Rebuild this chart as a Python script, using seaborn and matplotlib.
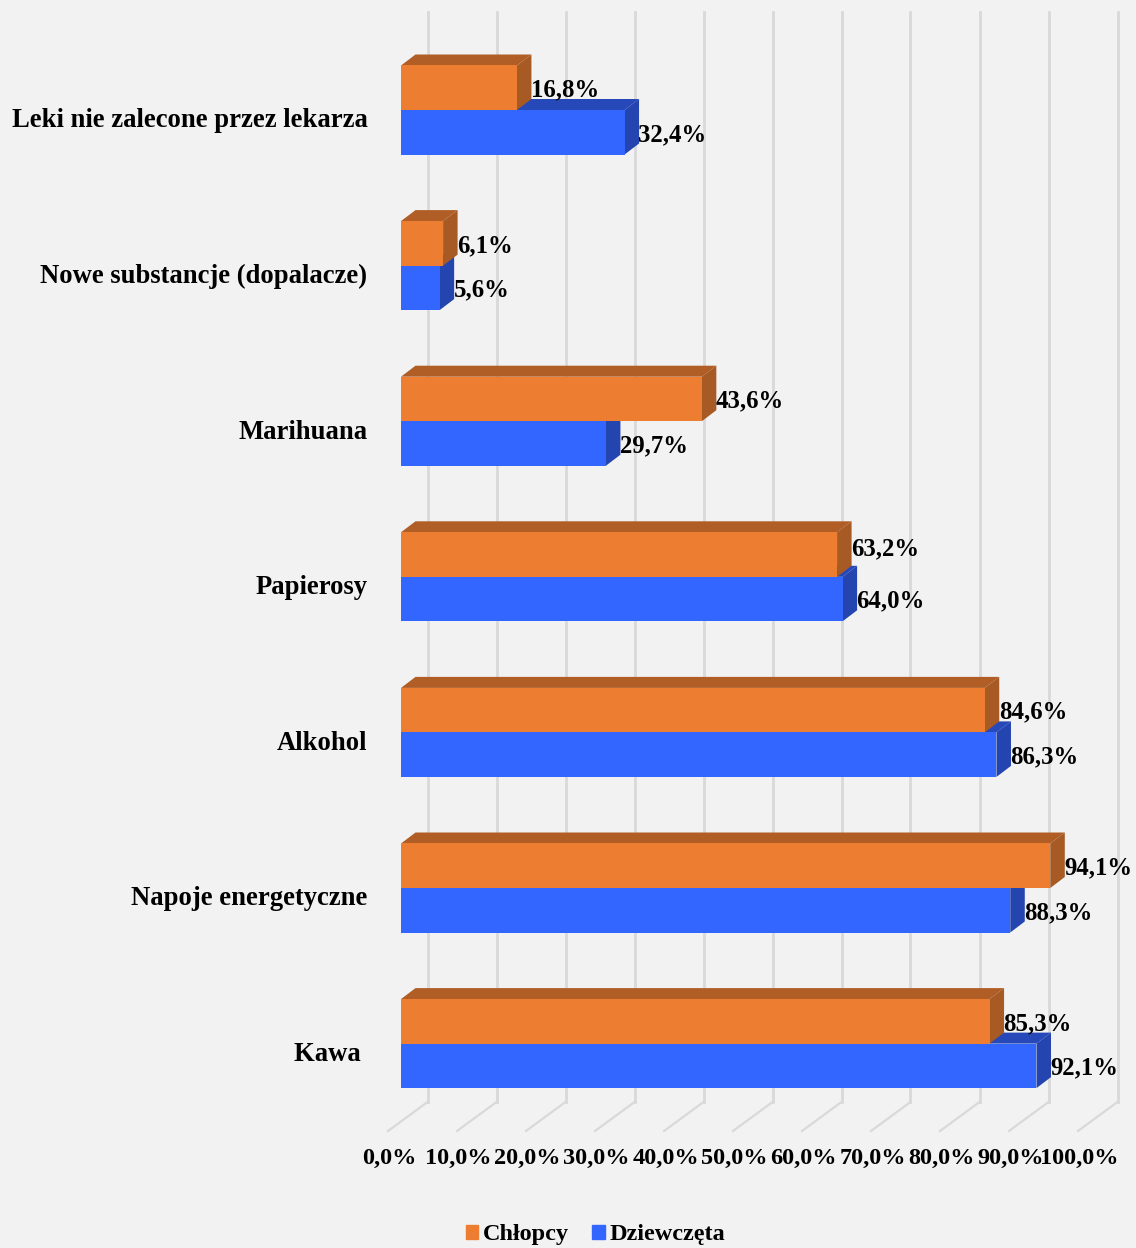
import matplotlib
matplotlib.use("Agg")
import pandas as pd
import matplotlib.pyplot as plt
import seaborn as sns
from matplotlib.patches import Polygon
from matplotlib.transforms import Affine2D

categories = ['Leki nie zalecone przez lekarza', 'Nowe substancje (dopalacze)', 'Marihuana',
              'Papierosy', 'Alkohol', 'Napoje energetyczne', 'Kawa ']
chlopcy = [16.8, 6.1, 43.6, 63.2, 84.6, 94.1, 85.3]
dziewczeta = [32.4, 5.6, 29.7, 64.0, 86.3, 88.3, 92.1]
x_ticks = [0, 10, 20, 30, 40, 50, 60, 70, 80, 90, 100]

df = pd.DataFrame({'kategoria': categories * 2,
                   'procent': chlopcy + dziewczeta,
                   'plec': ['Chłopcy'] * 7 + ['Dziewczęta'] * 7})

BG = '#f2f2f2'
W, H = 1136, 1248
plt.rcParams['font.family'] = ['Liberation Serif', 'DejaVu Serif']
plt.rcParams['font.weight'] = 'bold'

fig = plt.figure(figsize=(W / 100, H / 100), dpi=100, facecolor=BG)
# axes box in pixels: 0% at x=401, 100% at x=1091
ax = fig.add_axes([401 / W, (H - 1135) / H, 690 / W, (1135 - 12) / H])
ax.set_facecolor('none')

sns.barplot(data=df, y='kategoria', x='procent', hue='plec', orient='h',
            palette={'Chłopcy': '#ed7d31', 'Dziewczęta': '#3366ff'},
            width=0.572, saturation=1, ax=ax, legend=False)

ax.set_xlim(0, 100)
step = 155.6
ax.set_ylim((1135 - 110) / step, (12 - 110) / step)
ax.set_xlabel('')
ax.set_ylabel('')
for s in ax.spines.values():
    s.set_visible(False)

# back wall and floor lines, in pixel offsets from the front of the bars
grid_col = '#d9d9d9'
for t in x_ticks:
    x0 = ax.transData.transform((t, 0))[0]
    wall = x0 + 26.5
    front = x0 - 13
    fig.add_artist(plt.Line2D([wall / W, wall / W], [(H - 12) / H, (H - 1102) / H],
                              color=grid_col, lw=2, zorder=0))
    fig.add_artist(plt.Line2D([wall / W, front / W], [(H - 1102) / H, (H - 1131) / H],
                              color=grid_col, lw=1.6, zorder=0))

# fake 3d depth on every bar
dx = 14.5 / 6.9
dy = 11 / step
side_cols = {0: '#a85a24', 1: '#2444b0'}
top_cols = {0: '#b05e26', 1: '#2648b8'}
for i, cont in enumerate(ax.containers):
    z = 2 if i == 1 else 4
    for bar in cont:
        x1 = bar.get_width()
        y0 = bar.get_y()
        y1 = y0 + bar.get_height()
        bar.set_zorder(z + 1)
        bar.set_linewidth(0)
        ax.add_patch(Polygon([(0, y0), (dx, y0 - dy), (x1 + dx, y0 - dy), (x1, y0)],
                             facecolor=top_cols[i], lw=0, zorder=z))
        ax.add_patch(Polygon([(x1, y0), (x1 + dx, y0 - dy), (x1 + dx, y1 - dy), (x1, y1)],
                             facecolor=side_cols[i], lw=0, zorder=z))

for i, cont in enumerate(ax.containers):
    vals = chlopcy if i == 0 else dziewczeta
    labels = [f'{v:.1f}%'.replace('.', ',') for v in vals]
    texts = ax.bar_label(cont, labels=labels, padding=10, fontsize=17.8, fontweight='bold',
                         color='black', zorder=8)
    for t in texts:
        t.xyann = (t.xyann[0], t.xyann[1] - 1.5)
    if i == 0:
        # Papierosy label sits higher in the original
        texts[3].xyann = (texts[3].xyann[0], texts[3].xyann[1] + 5.5)

ax.set_xticks(x_ticks)
ax.set_xticklabels([f'{t:.1f}%'.replace('.', ',') for t in x_ticks], fontsize=17.5, fontweight='bold')
ax.tick_params(axis='x', length=0, pad=9.5)
ax.tick_params(axis='y', length=0, pad=24.2, labelsize=19.2)
shift = Affine2D().translate(-11.5, 0)
for lab in ax.get_xticklabels():
    lab.set_transform(lab.get_transform() + shift)
shift_y = Affine2D().translate(0, -8)
for lab in ax.get_yticklabels():
    lab.set_transform(lab.get_transform() + shift_y)

handles = [plt.Rectangle((0, 0), 1, 1, color='#ed7d31'), plt.Rectangle((0, 0), 1, 1, color='#3366ff')]
fig.legend(handles, ['Chłopcy', 'Dziewczęta'], loc='lower center', ncol=2, frameon=False,
           fontsize=17.5, bbox_to_anchor=(595.5 / W, -0.0155), handlelength=0.51, handleheight=0.51,
           handletextpad=0.2, columnspacing=0.95)

fig.savefig('out.png', dpi=100, facecolor=BG)
